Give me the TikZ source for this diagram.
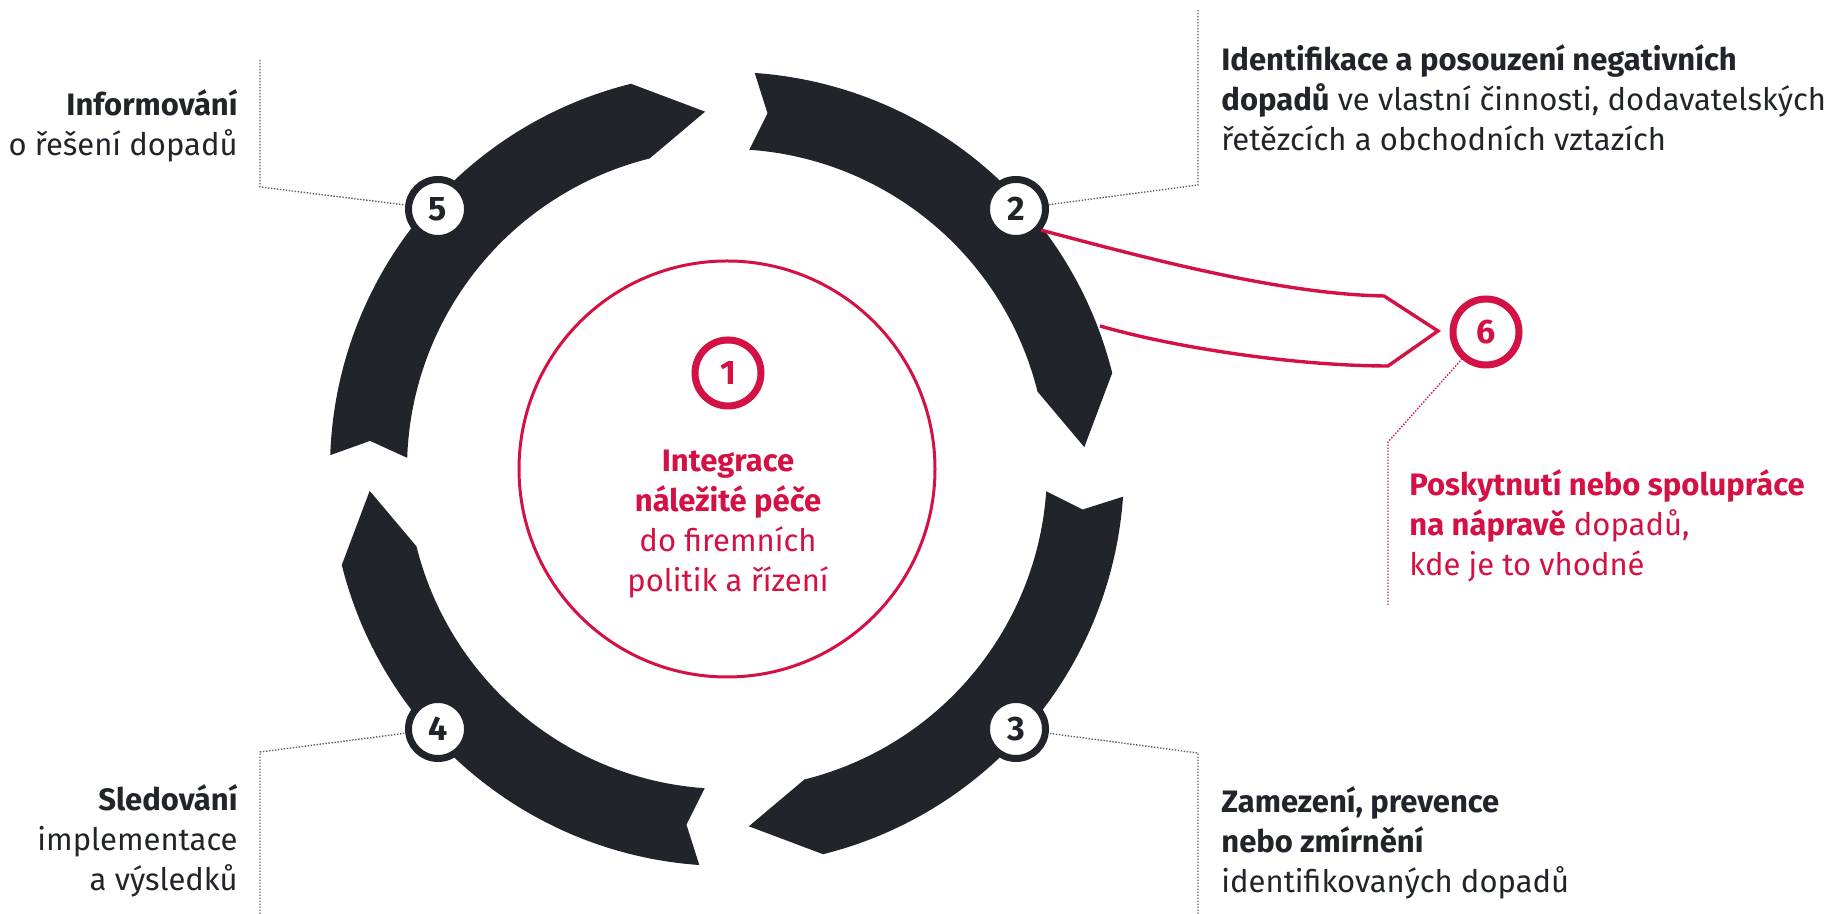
\documentclass[tikz,border=0pt]{standalone}
\usepackage{fontspec}
\setmainfont{Fira Sans}
\usetikzlibrary{calc}

\definecolor{ddred}{RGB}{211,17,69}
\definecolor{ddblack}{RGB}{33,36,42}
\definecolor{ddgray}{RGB}{95,95,95}

\tikzset{
  numcirc/.style={circle, draw=ddblack, line width=3.5pt, fill=white, minimum size=29.5pt,
    inner sep=0pt, text=ddblack, font=\fontsize{17}{17}\selectfont\bfseries},
  redcirc/.style={numcirc, draw=ddred, text=ddred, minimum size=33pt},
  leader/.style={ddgray, line width=0.7pt, dash pattern=on 0.7pt off 0.8pt},
  steptext/.style={font=\fontsize{15.5}{20}\selectfont, text=ddblack, inner sep=0pt},
  band/.style={fill=ddblack},
}

\begin{document}
\begin{tikzpicture}[x=0.5pt, y=0.5pt]
	\useasboundingbox (0,0) rectangle (1827,914);
	\coordinate (C) at (727,445);

	% inner circle
	\draw[ddred, line width=1.5pt] (C) circle[radius=208];

	% the four arrows of the cycle
	\begin{scope}[shift={(C)}]
		\fill[band] (86:397) arc[start angle=86, end angle=14, radius=397] -- (3.5:358)
			-- (14:320) arc[start angle=14, end angle=86, radius=320] -- (83.5:358) -- cycle;
		\fill[band] (-4:397) arc[start angle=-4, end angle=-76, radius=397] -- (-86.5:358)
			-- (-76:320) arc[start angle=-76, end angle=-4, radius=320] -- (-6.5:358) -- cycle;
		\fill[band] (-94:397) arc[start angle=-94, end angle=-166, radius=397] -- (-176.5:358)
			-- (-166:320) arc[start angle=-166, end angle=-94, radius=320] -- (-96.5:358) -- cycle;
		\fill[band] (178:397) arc[start angle=178, end angle=104, radius=397] -- (93.5:358)
			-- (104:320) arc[start angle=104, end angle=178, radius=320] -- (175.5:358) -- cycle;
	\end{scope}

	\node[redcirc] (n1) at (728,541) {1};
	\node[numcirc] (n2) at (1016,705) {2};
	\node[numcirc] (n3) at (1016,185) {3};
	\node[numcirc] (n4) at (438,185) {4};
	\node[numcirc] (n5) at (438,705) {5};
	\node[redcirc] (n6) at (1486,582) {6};

	\node[steptext, text=ddred, align=center, anchor=north] (t1) at (728,464)
		{\textbf{Integrace}\\\textbf{náležité péče}\\do firemních\\politik a řízení};
	\node[steptext, align=left, anchor=north west] (t2) at (1221,870)
		{\textbf{Identifikace a posouzení negativních}\\\textbf{dopadů} ve vlastní činnosti, dodavatelských\\řetězcích a obchodních vztazích};
	\node[steptext, align=left, anchor=north west] (t3) at (1221,128)
		{\textbf{Zamezení, prevence}\\\textbf{nebo zmírnění}\\identifikovaných dopadů};
	\node[steptext, align=right, anchor=north east] (t4) at (238,130)
		{\textbf{Sledování}\\implementace\\a výsledků};
	\node[steptext, align=right, anchor=north east] (t5) at (238,825)
		{\textbf{Informování}\\o řešení dopadů};
	\node[steptext, text=ddred, align=left, anchor=north west] (t6) at (1409,445)
		{\textbf{Poskytnutí nebo spolupráce}\\\textbf{na nápravě} dopadů,\\kde je to vhodné};

	% dotted leaders
	\coordinate (k2a) at (1198,904);
	\coordinate (k2) at (1198,729);
	\coordinate (k3a) at (1198,0);
	\coordinate (k3) at (1198,161);
	\coordinate (k4a) at (260,0);
	\coordinate (k4) at (260,162);
	\coordinate (k5a) at (260,854);
	\coordinate (k5) at (260,727);
	\coordinate (k6a) at (1388,309);
	\coordinate (k6) at (1388,472);
	\draw[leader] (k2a) -- (k2) -- (n2);
	\draw[leader] (k3a) -- (k3) -- (n3);
	\draw[leader] (k4a) -- (k4) -- (n4);
	\draw[leader] (k5a) -- (k5) -- (n5);
	\draw[leader, ddred] (k6a) -- (k6) -- (n6);

	% remediation branch
	\coordinate (r1) at (1384,618);
	\coordinate (r2) at (1438,583);
	\coordinate (r3) at (1388,548);
	\coordinate (r4) at (1100,588);
	\draw[ddred, line width=1.7pt] (n2.-40) .. controls (1150,655) and (1280,620) .. (r1)
		-- (r2) -- (r3) .. controls (1300,548) and (1180,565) .. (r4);
\end{tikzpicture}
\end{document}
